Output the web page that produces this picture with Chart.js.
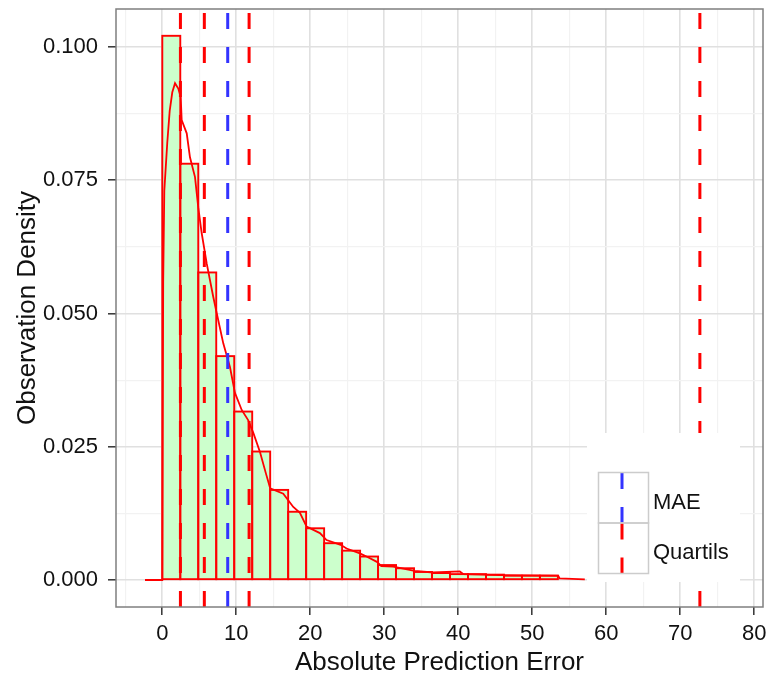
<!DOCTYPE html>
<html>
<head>
<meta charset="utf-8">
<script src="https://cdn.jsdelivr.net/npm/chart.js@4/dist/chart.umd.min.js"></script>
<style>
  html, body { margin: 0; padding: 0; background: #ffffff; }
  #wrap { width: 767px; height: 679px; }
</style>
</head>
<body>
<div id="wrap"><canvas id="chart" width="767" height="679"></canvas></div>
<script>
// Histogram bins: lower edge of each bin and its density
const binStarts = [0, 2.43, 4.86, 7.29, 9.72, 12.15, 14.58, 17.01, 19.44, 21.87, 24.30,
                   26.73, 29.16, 31.59, 34.02, 36.45, 38.88, 41.31, 43.74, 46.17, 48.60, 51.03];
const binDensity = [0.1021, 0.0781, 0.0577, 0.0420, 0.0316, 0.0241, 0.0169, 0.0128, 0.0097, 0.0069, 0.0055,
                    0.0044, 0.0028, 0.0022, 0.0015, 0.0013, 0.0011, 0.0011, 0.0010, 0.0008, 0.0008, 0.0008];
const binWidth = 2.43;

// Kernel density estimate of the absolute errors
const densityX = [-2.34, 0, 0.12, 0.27, 0.67, 1.0, 1.35, 1.72, 2.16, 2.49, 2.62, 3.3, 3.74, 4.42, 4.86,
                  5.32, 6.0, 6.89, 7.35, 8.24, 9.15, 9.82, 10.73, 11.6, 12.3, 13.2, 14.0, 14.58, 16.35,
                  17.7, 18.6, 19.5, 21.3, 22.2, 24.1, 24.9, 26.7, 27.6, 29.0, 29.6, 31.2, 34.1, 36.6,
                  40.2, 40.7, 45.6, 53.5, 53.7, 57.1];
const densityY = [0, 0, 0.056, 0.073, 0.082, 0.088, 0.0915, 0.0932, 0.0922, 0.0906, 0.0863, 0.0838, 0.0793,
                  0.0756, 0.0699, 0.0651, 0.0594, 0.0531, 0.0501, 0.0444, 0.0399, 0.0351, 0.0319, 0.0300,
                  0.0276, 0.0240, 0.0200, 0.0172, 0.0162, 0.0137, 0.0126, 0.0100, 0.0088, 0.0075, 0.0066,
                  0.0059, 0.0050, 0.0044, 0.0034, 0.0026, 0.0025, 0.0017, 0.0014, 0.0016, 0.0011, 0.0009,
                  0.0008, 0.0003, 0.0001];

// Reference lines
const quartiles = [2.45, 5.68, 11.73, 72.65];
const maeValue = 8.84;

// Axes
const xMajorTicks = [0, 10, 20, 30, 40, 50, 60, 70, 80];
const xMinorTicks = [-5, 5, 15, 25, 35, 45, 55, 65, 75];
const yMajorTicks = [0, 0.025, 0.05, 0.075, 0.1];
const yTickLabels = ['0.000', '0.025', '0.050', '0.075', '0.100'];
const yMinorTicks = [0.0125, 0.0375, 0.0625, 0.0875];
const xLimits = [-6.257, 81.18];
const yLimits = [-0.00507, 0.10713];

const RED = '#ff0000';
const BLUE = '#3333ff';
const FONT = "'Liberation Sans', Arial, Helvetica, sans-serif";
const TEXT = '#111111';
const DASH = [16, 18];

const isNear = (list, v) => list.some(t => Math.abs(t - v) < 1e-9);

function refLine(x, color) {
  return {
    type: 'line',
    data: [{ x: x, y: yLimits[0] }, { x: x, y: yLimits[1] }],
    borderColor: color,
    borderWidth: 3,
    borderDash: DASH,
    pointRadius: 0,
    tension: 0,
    order: 1
  };
}

// Outline each histogram bar on its true edges (stroke centred on the edge)
const barOutline = {
  id: 'barOutline',
  afterDatasetDraw(chart, args) {
    if (args.index !== 0) return;
    const ctx = chart.ctx, area = chart.chartArea;
    ctx.save();
    ctx.beginPath();
    ctx.rect(area.left, area.top, area.right - area.left, area.bottom - area.top);
    ctx.clip();
    ctx.strokeStyle = RED;
    ctx.lineWidth = 1.9;
    args.meta.data.forEach(bar => {
      const p = bar.getProps(['x', 'y', 'base', 'width'], true);
      ctx.strokeRect(p.x - p.width / 2, p.y, p.width, p.base - p.y);
    });
    ctx.restore();
  }
};

// Panel border and legend box drawn over the plot
const panelAndLegend = {
  id: 'panelAndLegend',
  afterDraw(chart) {
    const ctx = chart.ctx, a = chart.chartArea;
    ctx.save();
    // legend background
    ctx.fillStyle = '#ffffff';
    ctx.fillRect(587, 433, 153, 149);
    const keyX = 598.5, keyW = 50, keyH = 50.5, keyTop = 472.5;
    const keys = [
      { color: BLUE, label: 'MAE' },
      { color: RED, label: 'Quartils' }
    ];
    keys.forEach((k, i) => {
      const top = keyTop + i * keyH;
      const bottom = top + keyH;
      ctx.save();
      ctx.beginPath();
      ctx.rect(keyX, top, keyW, keyH);
      ctx.clip();
      ctx.strokeStyle = k.color;
      ctx.lineWidth = 3;
      ctx.setLineDash(DASH);
      ctx.beginPath();
      ctx.moveTo(keyX + keyW / 2 - 1.5, bottom);
      ctx.lineTo(keyX + keyW / 2 - 1.5, top);
      ctx.stroke();
      ctx.restore();
      ctx.strokeStyle = '#cccccc';
      ctx.lineWidth = 1.5;
      ctx.strokeRect(keyX, top, keyW, keyH);
      ctx.fillStyle = TEXT;
      ctx.font = '22px ' + FONT;
      ctx.textAlign = 'left';
      ctx.textBaseline = 'alphabetic';
      ctx.fillText(k.label, 653, top + keyH / 2 + 11);
    });
    // panel border
    ctx.strokeStyle = '#7f7f7f';
    ctx.lineWidth = 1.5;
    ctx.strokeRect(a.left, a.top, a.right - a.left, a.bottom - a.top);
    ctx.restore();
  }
};

const majorGrid = '#e0e0e0';
const minorGrid = '#f2f2f2';

new Chart(document.getElementById('chart'), {
  type: 'bar',
  data: {
    datasets: [
      {
        type: 'bar',
        data: binStarts.map((s, i) => ({ x: s + binWidth / 2, y: binDensity[i] })),
        backgroundColor: '#ccffcc',
        borderWidth: 0,
        barPercentage: 1,
        categoryPercentage: 1,
        order: 10
      },
      {
        type: 'line',
        data: densityX.map((x, i) => ({ x: x, y: densityY[i] })),
        borderColor: RED,
        borderWidth: 1.8,
        pointRadius: 0,
        tension: 0,
        order: 5
      },
      refLine(maeValue, BLUE),
      ...quartiles.map(q => refLine(q, RED))
    ]
  },
  options: {
    responsive: false,
    devicePixelRatio: 1,
    animation: false,
    events: [],
    layout: { padding: { top: 9, right: 4, bottom: 0, left: 0 } },
    plugins: { legend: { display: false }, tooltip: { enabled: false } },
    scales: {
      x: {
        type: 'linear',
        min: xLimits[0],
        max: xLimits[1],
        offset: false,
        border: { display: false },
        afterBuildTicks: s => {
          s.ticks = xMinorTicks.concat(xMajorTicks).sort((a, b) => a - b).map(v => ({ value: v }));
        },
        afterFit: s => { s.height = 72; s.paddingLeft = 0; s.paddingRight = 0; },
        grid: {
          offset: false,
          color: c => isNear(xMajorTicks, c.tick.value) ? majorGrid : minorGrid,
          lineWidth: c => isNear(xMajorTicks, c.tick.value) ? 1.6 : 1.2,
          tickLength: 8,
          tickColor: c => isNear(xMajorTicks, c.tick.value) ? '#333333' : 'rgba(0,0,0,0)',
          tickWidth: 1.5
        },
        ticks: {
          autoSkip: false,
          maxRotation: 0,
          padding: 6,
          color: TEXT,
          font: { family: FONT, size: 22 },
          callback: v => isNear(xMajorTicks, v) ? String(v) : ''
        },
        title: {
          display: true,
          text: 'Absolute Prediction Error',
          color: TEXT,
          font: { family: FONT, size: 26 },
          padding: { top: 0, bottom: 1 }
        }
      },
      y: {
        type: 'linear',
        min: yLimits[0],
        max: yLimits[1],
        border: { display: false },
        afterBuildTicks: s => {
          s.ticks = yMajorTicks.concat(yMinorTicks).sort((a, b) => a - b).map(v => ({ value: v }));
        },
        afterFit: s => { s.width = 116; s.paddingTop = 0; s.paddingBottom = 0; },
        grid: {
          color: c => isNear(yMajorTicks, c.tick.value) ? majorGrid : minorGrid,
          lineWidth: c => isNear(yMajorTicks, c.tick.value) ? 1.6 : 1.2,
          tickLength: 8,
          tickColor: c => isNear(yMajorTicks, c.tick.value) ? '#333333' : 'rgba(0,0,0,0)',
          tickWidth: 1.5
        },
        ticks: {
          autoSkip: false,
          padding: 10,
          color: TEXT,
          font: { family: FONT, size: 22 },
          callback: v => {
            const i = yMajorTicks.findIndex(t => Math.abs(t - v) < 1e-9);
            return i >= 0 ? yTickLabels[i] : '';
          }
        },
        title: {
          display: true,
          text: 'Observation Density',
          color: TEXT,
          font: { family: FONT, size: 26 },
          padding: { top: 12, bottom: 0 }
        }
      }
    }
  },
  plugins: [barOutline, panelAndLegend]
});
</script>
</body>
</html>
